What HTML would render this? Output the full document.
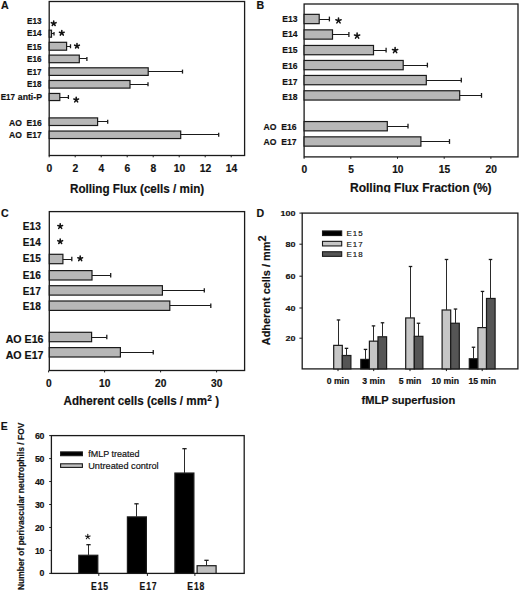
<!DOCTYPE html>
<html><head><meta charset="utf-8"><style>
html,body{margin:0;padding:0;background:#fff;width:520px;height:592px;overflow:hidden}
svg{display:block}
text{fill:#111;font-family:"Liberation Sans",sans-serif;stroke:#111;stroke-width:0.18px}
</style></head><body>
<svg width="520" height="592" viewBox="0 0 520 592">
<rect x="0" y="0" width="520" height="592" fill="#fff"/>
<text transform="translate(1.1,9.0) scale(1,1.03)" font-size="10.6" font-weight="bold" >A</text>
<rect x="49.2" y="1.5" width="195.39999999999998" height="154.0" fill="none" stroke="#1a1a1a" stroke-width="1.3"/>
<text transform="translate(27.1,23.5) scale(1,1.05)" font-size="8.3" font-weight="bold" textLength="14.4" lengthAdjust="spacingAndGlyphs" >E13</text>
<text transform="translate(27.1,36.2) scale(1,1.05)" font-size="8.3" font-weight="bold" textLength="14.4" lengthAdjust="spacingAndGlyphs" >E14</text>
<text transform="translate(27.1,49.6) scale(1,1.05)" font-size="8.3" font-weight="bold" textLength="14.4" lengthAdjust="spacingAndGlyphs" >E15</text>
<text transform="translate(27.1,62.3) scale(1,1.05)" font-size="8.3" font-weight="bold" textLength="14.4" lengthAdjust="spacingAndGlyphs" >E16</text>
<text transform="translate(27.1,75.0) scale(1,1.05)" font-size="8.3" font-weight="bold" textLength="14.4" lengthAdjust="spacingAndGlyphs" >E17</text>
<text transform="translate(27.1,87.1) scale(1,1.05)" font-size="8.3" font-weight="bold" textLength="14.4" lengthAdjust="spacingAndGlyphs" >E18</text>
<text transform="translate(0.7,99.80000000000001) scale(1,1.05)" font-size="8.3" font-weight="bold" textLength="14.4" lengthAdjust="spacingAndGlyphs" >E17</text>
<text transform="translate(17.8,99.80000000000001) scale(1,1.05)" font-size="8.3" font-weight="bold" textLength="24.2" lengthAdjust="spacingAndGlyphs" >anti-P</text>
<text transform="translate(9.0,125.5) scale(1,1.05)" font-size="8.3" font-weight="bold" textLength="32.8" lengthAdjust="spacingAndGlyphs" >AO&#160;&#160;E16</text>
<text transform="translate(9.0,138.0) scale(1,1.05)" font-size="8.3" font-weight="bold" textLength="32.8" lengthAdjust="spacingAndGlyphs" >AO&#160;&#160;E17</text>
<rect x="49.20" y="30.20" width="2.30" height="7.00" fill="#b7b7b7" stroke="#1a1a1a" stroke-width="1.2"/>
<line x1="51.50" y1="33.50" x2="54.00" y2="33.50" stroke="#1a1a1a" stroke-width="1.0"/>
<line x1="54.00" y1="32.00" x2="54.00" y2="35.40" stroke="#1a1a1a" stroke-width="1.3"/>
<rect x="49.20" y="42.30" width="17.40" height="7.90" fill="#b7b7b7" stroke="#1a1a1a" stroke-width="1.2"/>
<line x1="66.60" y1="46.50" x2="70.50" y2="46.50" stroke="#1a1a1a" stroke-width="1.0"/>
<line x1="70.50" y1="44.25" x2="70.50" y2="48.25" stroke="#1a1a1a" stroke-width="1.3"/>
<rect x="49.20" y="55.10" width="30.10" height="7.60" fill="#b7b7b7" stroke="#1a1a1a" stroke-width="1.2"/>
<line x1="79.30" y1="58.50" x2="86.90" y2="58.50" stroke="#1a1a1a" stroke-width="1.0"/>
<line x1="86.90" y1="56.90" x2="86.90" y2="60.90" stroke="#1a1a1a" stroke-width="1.3"/>
<rect x="49.20" y="67.80" width="99.00" height="7.60" fill="#b7b7b7" stroke="#1a1a1a" stroke-width="1.2"/>
<line x1="148.20" y1="71.50" x2="182.50" y2="71.50" stroke="#1a1a1a" stroke-width="1.0"/>
<line x1="182.50" y1="69.60" x2="182.50" y2="73.60" stroke="#1a1a1a" stroke-width="1.3"/>
<rect x="49.20" y="80.50" width="80.80" height="7.60" fill="#b7b7b7" stroke="#1a1a1a" stroke-width="1.2"/>
<line x1="130.00" y1="84.50" x2="148.00" y2="84.50" stroke="#1a1a1a" stroke-width="1.0"/>
<line x1="148.00" y1="82.30" x2="148.00" y2="86.30" stroke="#1a1a1a" stroke-width="1.3"/>
<rect x="49.20" y="93.45" width="10.60" height="7.10" fill="#b7b7b7" stroke="#1a1a1a" stroke-width="1.2"/>
<line x1="59.80" y1="97.50" x2="68.40" y2="97.50" stroke="#1a1a1a" stroke-width="1.0"/>
<line x1="68.40" y1="95.00" x2="68.40" y2="99.00" stroke="#1a1a1a" stroke-width="1.3"/>
<rect x="49.20" y="117.90" width="48.40" height="7.60" fill="#b7b7b7" stroke="#1a1a1a" stroke-width="1.2"/>
<line x1="97.60" y1="121.50" x2="107.70" y2="121.50" stroke="#1a1a1a" stroke-width="1.0"/>
<line x1="107.70" y1="119.70" x2="107.70" y2="123.70" stroke="#1a1a1a" stroke-width="1.3"/>
<rect x="49.20" y="131.05" width="131.50" height="7.50" fill="#b7b7b7" stroke="#1a1a1a" stroke-width="1.2"/>
<line x1="180.70" y1="134.50" x2="218.70" y2="134.50" stroke="#1a1a1a" stroke-width="1.0"/>
<line x1="218.70" y1="132.80" x2="218.70" y2="136.80" stroke="#1a1a1a" stroke-width="1.3"/>
<path d="M53.70 23.44L53.70 20.94M53.70 23.44L56.08 22.67M53.70 23.44L55.17 25.46M53.70 23.44L52.23 25.46M53.70 23.44L51.32 22.67" stroke="#111" stroke-width="1.55" stroke-linecap="round" fill="none"/>
<path d="M61.80 33.04L61.80 30.54M61.80 33.04L64.18 32.27M61.80 33.04L63.27 35.06M61.80 33.04L60.33 35.06M61.80 33.04L59.42 32.27" stroke="#111" stroke-width="1.55" stroke-linecap="round" fill="none"/>
<path d="M77.00 45.94L77.00 43.44M77.00 45.94L79.38 45.17M77.00 45.94L78.47 47.96M77.00 45.94L75.53 47.96M77.00 45.94L74.62 45.17" stroke="#111" stroke-width="1.55" stroke-linecap="round" fill="none"/>
<path d="M76.20 99.84L76.20 97.34M76.20 99.84L78.58 99.07M76.20 99.84L77.67 101.86M76.20 99.84L74.73 101.86M76.20 99.84L73.82 99.07" stroke="#111" stroke-width="1.55" stroke-linecap="round" fill="none"/>
<line x1="49.20" y1="155.50" x2="49.20" y2="157.30" stroke="#1a1a1a" stroke-width="1.0"/>
<text transform="translate(49.400000000000006,172.3)" font-size="10.3" font-weight="bold" text-anchor="middle" >0</text>
<line x1="75.20" y1="155.50" x2="75.20" y2="157.30" stroke="#1a1a1a" stroke-width="1.0"/>
<text transform="translate(75.4,172.3)" font-size="10.3" font-weight="bold" text-anchor="middle" >2</text>
<line x1="101.20" y1="155.50" x2="101.20" y2="157.30" stroke="#1a1a1a" stroke-width="1.0"/>
<text transform="translate(101.4,172.3)" font-size="10.3" font-weight="bold" text-anchor="middle" >4</text>
<line x1="127.20" y1="155.50" x2="127.20" y2="157.30" stroke="#1a1a1a" stroke-width="1.0"/>
<text transform="translate(127.4,172.3)" font-size="10.3" font-weight="bold" text-anchor="middle" >6</text>
<line x1="153.20" y1="155.50" x2="153.20" y2="157.30" stroke="#1a1a1a" stroke-width="1.0"/>
<text transform="translate(153.39999999999998,172.3)" font-size="10.3" font-weight="bold" text-anchor="middle" >8</text>
<line x1="179.20" y1="155.50" x2="179.20" y2="157.30" stroke="#1a1a1a" stroke-width="1.0"/>
<text transform="translate(179.39999999999998,172.3)" font-size="10.3" font-weight="bold" text-anchor="middle" >10</text>
<line x1="205.20" y1="155.50" x2="205.20" y2="157.30" stroke="#1a1a1a" stroke-width="1.0"/>
<text transform="translate(205.39999999999998,172.3)" font-size="10.3" font-weight="bold" text-anchor="middle" >12</text>
<line x1="231.20" y1="155.50" x2="231.20" y2="157.30" stroke="#1a1a1a" stroke-width="1.0"/>
<text transform="translate(231.39999999999998,172.3)" font-size="10.3" font-weight="bold" text-anchor="middle" >14</text>
<text transform="translate(70.0,193.1) scale(1,1.03)" font-size="11.7" font-weight="bold" textLength="134.2" lengthAdjust="spacingAndGlyphs" >Rolling Flux (cells / min)</text>
<text transform="translate(256.6,9.2)" font-size="10.6" font-weight="bold" >B</text>
<rect x="304.1" y="4.0" width="213.89999999999998" height="152.9" fill="none" stroke="#1a1a1a" stroke-width="1.3"/>
<text transform="translate(282.2,22.0) scale(1,1.05)" font-size="8.3" font-weight="bold" textLength="15.2" lengthAdjust="spacingAndGlyphs" >E13</text>
<text transform="translate(282.2,37.4) scale(1,1.05)" font-size="8.3" font-weight="bold" textLength="15.2" lengthAdjust="spacingAndGlyphs" >E14</text>
<text transform="translate(282.2,53.2) scale(1,1.05)" font-size="8.3" font-weight="bold" textLength="15.2" lengthAdjust="spacingAndGlyphs" >E15</text>
<text transform="translate(282.2,69.0) scale(1,1.05)" font-size="8.3" font-weight="bold" textLength="15.2" lengthAdjust="spacingAndGlyphs" >E16</text>
<text transform="translate(282.2,84.6) scale(1,1.05)" font-size="8.3" font-weight="bold" textLength="15.2" lengthAdjust="spacingAndGlyphs" >E17</text>
<text transform="translate(282.2,99.5) scale(1,1.05)" font-size="8.3" font-weight="bold" textLength="15.2" lengthAdjust="spacingAndGlyphs" >E18</text>
<text transform="translate(263.5,130.0) scale(1,1.05)" font-size="8.3" font-weight="bold" textLength="33.0" lengthAdjust="spacingAndGlyphs" >AO&#160;&#160;E16</text>
<text transform="translate(263.5,145.3) scale(1,1.05)" font-size="8.3" font-weight="bold" textLength="33.0" lengthAdjust="spacingAndGlyphs" >AO&#160;&#160;E17</text>
<rect x="304.10" y="14.35" width="15.10" height="9.30" fill="#b7b7b7" stroke="#1a1a1a" stroke-width="1.2"/>
<line x1="319.20" y1="19.50" x2="329.40" y2="19.50" stroke="#1a1a1a" stroke-width="1.0"/>
<line x1="329.40" y1="16.60" x2="329.40" y2="21.40" stroke="#1a1a1a" stroke-width="1.3"/>
<rect x="304.10" y="29.85" width="28.40" height="9.30" fill="#b7b7b7" stroke="#1a1a1a" stroke-width="1.2"/>
<line x1="332.50" y1="34.50" x2="348.90" y2="34.50" stroke="#1a1a1a" stroke-width="1.0"/>
<line x1="348.90" y1="32.10" x2="348.90" y2="36.90" stroke="#1a1a1a" stroke-width="1.3"/>
<rect x="304.10" y="45.45" width="69.40" height="9.30" fill="#b7b7b7" stroke="#1a1a1a" stroke-width="1.2"/>
<line x1="373.50" y1="50.50" x2="386.10" y2="50.50" stroke="#1a1a1a" stroke-width="1.0"/>
<line x1="386.10" y1="47.70" x2="386.10" y2="52.50" stroke="#1a1a1a" stroke-width="1.3"/>
<rect x="304.10" y="60.45" width="99.10" height="9.30" fill="#b7b7b7" stroke="#1a1a1a" stroke-width="1.2"/>
<line x1="403.20" y1="65.50" x2="427.40" y2="65.50" stroke="#1a1a1a" stroke-width="1.0"/>
<line x1="427.40" y1="62.70" x2="427.40" y2="67.50" stroke="#1a1a1a" stroke-width="1.3"/>
<rect x="304.10" y="75.45" width="122.20" height="9.30" fill="#b7b7b7" stroke="#1a1a1a" stroke-width="1.2"/>
<line x1="426.30" y1="80.50" x2="461.30" y2="80.50" stroke="#1a1a1a" stroke-width="1.0"/>
<line x1="461.30" y1="77.70" x2="461.30" y2="82.50" stroke="#1a1a1a" stroke-width="1.3"/>
<rect x="304.10" y="90.75" width="155.60" height="9.30" fill="#b7b7b7" stroke="#1a1a1a" stroke-width="1.2"/>
<line x1="459.70" y1="95.50" x2="481.50" y2="95.50" stroke="#1a1a1a" stroke-width="1.0"/>
<line x1="481.50" y1="93.00" x2="481.50" y2="97.80" stroke="#1a1a1a" stroke-width="1.3"/>
<rect x="304.10" y="121.55" width="83.20" height="9.30" fill="#b7b7b7" stroke="#1a1a1a" stroke-width="1.2"/>
<line x1="387.30" y1="126.50" x2="408.00" y2="126.50" stroke="#1a1a1a" stroke-width="1.0"/>
<line x1="408.00" y1="123.80" x2="408.00" y2="128.60" stroke="#1a1a1a" stroke-width="1.3"/>
<rect x="304.10" y="136.85" width="116.80" height="9.30" fill="#b7b7b7" stroke="#1a1a1a" stroke-width="1.2"/>
<line x1="420.90" y1="141.50" x2="449.50" y2="141.50" stroke="#1a1a1a" stroke-width="1.0"/>
<line x1="449.50" y1="139.10" x2="449.50" y2="143.90" stroke="#1a1a1a" stroke-width="1.3"/>
<path d="M338.50 20.66L338.50 17.90M338.50 20.66L341.13 19.81M338.50 20.66L340.12 22.90M338.50 20.66L336.88 22.90M338.50 20.66L335.87 19.81" stroke="#111" stroke-width="1.55" stroke-linecap="round" fill="none"/>
<path d="M357.10 35.86L357.10 33.10M357.10 35.86L359.73 35.01M357.10 35.86L358.72 38.10M357.10 35.86L355.48 38.10M357.10 35.86L354.47 35.01" stroke="#111" stroke-width="1.55" stroke-linecap="round" fill="none"/>
<path d="M395.10 50.36L395.10 47.60M395.10 50.36L397.73 49.51M395.10 50.36L396.72 52.60M395.10 50.36L393.48 52.60M395.10 50.36L392.47 49.51" stroke="#111" stroke-width="1.55" stroke-linecap="round" fill="none"/>
<line x1="304.10" y1="156.90" x2="304.10" y2="158.80" stroke="#1a1a1a" stroke-width="1.0"/>
<text transform="translate(304.40000000000003,172.7)" font-size="10.2" font-weight="bold" text-anchor="middle" >0</text>
<line x1="350.80" y1="156.90" x2="350.80" y2="158.80" stroke="#1a1a1a" stroke-width="1.0"/>
<text transform="translate(351.1,172.7)" font-size="10.2" font-weight="bold" text-anchor="middle" >5</text>
<line x1="397.50" y1="156.90" x2="397.50" y2="158.80" stroke="#1a1a1a" stroke-width="1.0"/>
<text transform="translate(397.8,172.7)" font-size="10.2" font-weight="bold" text-anchor="middle" >10</text>
<line x1="444.20" y1="156.90" x2="444.20" y2="158.80" stroke="#1a1a1a" stroke-width="1.0"/>
<text transform="translate(444.50000000000006,172.7)" font-size="10.2" font-weight="bold" text-anchor="middle" >15</text>
<line x1="490.90" y1="156.90" x2="490.90" y2="158.80" stroke="#1a1a1a" stroke-width="1.0"/>
<text transform="translate(491.20000000000005,172.7)" font-size="10.2" font-weight="bold" text-anchor="middle" >20</text>
<clipPath id="cb"><rect x="300" y="170" width="97" height="22.4"/><rect x="397" y="170" width="120" height="30"/></clipPath>
<g clip-path="url(#cb)">
<text transform="translate(350.0,192.2)" font-size="12.0" font-weight="bold" textLength="141.6" lengthAdjust="spacingAndGlyphs" >Rolling Flux Fraction (%)</text>
</g>
<text transform="translate(1.0,217.4)" font-size="10.6" font-weight="bold" >C</text>
<rect x="49.3" y="211.6" width="195.3" height="158.9" fill="none" stroke="#1a1a1a" stroke-width="1.3"/>
<text transform="translate(22.8,230.1) scale(1,1.02)" font-size="10.2" font-weight="bold" textLength="18.0" lengthAdjust="spacingAndGlyphs" >E13</text>
<text transform="translate(22.8,246.1) scale(1,1.02)" font-size="10.2" font-weight="bold" textLength="18.0" lengthAdjust="spacingAndGlyphs" >E14</text>
<text transform="translate(22.8,262.09999999999997) scale(1,1.02)" font-size="10.2" font-weight="bold" textLength="18.0" lengthAdjust="spacingAndGlyphs" >E15</text>
<text transform="translate(22.8,279.0) scale(1,1.02)" font-size="10.2" font-weight="bold" textLength="18.0" lengthAdjust="spacingAndGlyphs" >E16</text>
<text transform="translate(22.8,294.5) scale(1,1.02)" font-size="10.2" font-weight="bold" textLength="18.0" lengthAdjust="spacingAndGlyphs" >E17</text>
<text transform="translate(22.8,310.3) scale(1,1.02)" font-size="10.2" font-weight="bold" textLength="18.0" lengthAdjust="spacingAndGlyphs" >E18</text>
<text transform="translate(5.7,343.4) scale(1,1.02)" font-size="10.2" font-weight="bold" textLength="37.8" lengthAdjust="spacingAndGlyphs" >AO E16</text>
<text transform="translate(5.7,358.9) scale(1,1.02)" font-size="10.2" font-weight="bold" textLength="37.8" lengthAdjust="spacingAndGlyphs" >AO E17</text>
<rect x="49.30" y="254.30" width="13.60" height="9.40" fill="#b7b7b7" stroke="#1a1a1a" stroke-width="1.2"/>
<line x1="62.90" y1="259.50" x2="71.80" y2="259.50" stroke="#1a1a1a" stroke-width="1.0"/>
<line x1="71.80" y1="256.80" x2="71.80" y2="261.20" stroke="#1a1a1a" stroke-width="1.3"/>
<rect x="49.30" y="270.60" width="42.70" height="9.40" fill="#b7b7b7" stroke="#1a1a1a" stroke-width="1.2"/>
<line x1="92.00" y1="275.50" x2="110.70" y2="275.50" stroke="#1a1a1a" stroke-width="1.0"/>
<line x1="110.70" y1="273.10" x2="110.70" y2="277.50" stroke="#1a1a1a" stroke-width="1.3"/>
<rect x="49.30" y="285.70" width="113.10" height="9.40" fill="#b7b7b7" stroke="#1a1a1a" stroke-width="1.2"/>
<line x1="162.40" y1="290.50" x2="204.30" y2="290.50" stroke="#1a1a1a" stroke-width="1.0"/>
<line x1="204.30" y1="288.20" x2="204.30" y2="292.60" stroke="#1a1a1a" stroke-width="1.3"/>
<rect x="49.30" y="301.00" width="120.50" height="9.40" fill="#b7b7b7" stroke="#1a1a1a" stroke-width="1.2"/>
<line x1="169.80" y1="305.50" x2="210.80" y2="305.50" stroke="#1a1a1a" stroke-width="1.0"/>
<line x1="210.80" y1="303.50" x2="210.80" y2="307.90" stroke="#1a1a1a" stroke-width="1.3"/>
<rect x="49.30" y="332.30" width="42.30" height="9.40" fill="#b7b7b7" stroke="#1a1a1a" stroke-width="1.2"/>
<line x1="91.60" y1="337.50" x2="106.80" y2="337.50" stroke="#1a1a1a" stroke-width="1.0"/>
<line x1="106.80" y1="334.80" x2="106.80" y2="339.20" stroke="#1a1a1a" stroke-width="1.3"/>
<rect x="49.30" y="347.60" width="71.10" height="9.40" fill="#b7b7b7" stroke="#1a1a1a" stroke-width="1.2"/>
<line x1="120.40" y1="352.50" x2="153.25" y2="352.50" stroke="#1a1a1a" stroke-width="1.0"/>
<line x1="153.25" y1="350.10" x2="153.25" y2="354.50" stroke="#1a1a1a" stroke-width="1.3"/>
<path d="M60.20 226.34L60.20 223.84M60.20 226.34L62.58 225.57M60.20 226.34L61.67 228.36M60.20 226.34L58.73 228.36M60.20 226.34L57.82 225.57" stroke="#111" stroke-width="1.55" stroke-linecap="round" fill="none"/>
<path d="M60.20 241.44L60.20 238.94M60.20 241.44L62.58 240.67M60.20 241.44L61.67 243.46M60.20 241.44L58.73 243.46M60.20 241.44L57.82 240.67" stroke="#111" stroke-width="1.55" stroke-linecap="round" fill="none"/>
<path d="M80.20 258.54L80.20 256.04M80.20 258.54L82.58 257.77M80.20 258.54L81.67 260.56M80.20 258.54L78.73 260.56M80.20 258.54L77.82 257.77" stroke="#111" stroke-width="1.55" stroke-linecap="round" fill="none"/>
<line x1="48.60" y1="370.50" x2="48.60" y2="372.40" stroke="#1a1a1a" stroke-width="1.0"/>
<text transform="translate(48.800000000000004,387.3) scale(1,1.02)" font-size="10.2" font-weight="bold" text-anchor="middle" >0</text>
<line x1="104.60" y1="370.50" x2="104.60" y2="372.40" stroke="#1a1a1a" stroke-width="1.0"/>
<text transform="translate(104.8,387.3) scale(1,1.02)" font-size="10.2" font-weight="bold" text-anchor="middle" >10</text>
<line x1="160.60" y1="370.50" x2="160.60" y2="372.40" stroke="#1a1a1a" stroke-width="1.0"/>
<text transform="translate(160.79999999999998,387.3) scale(1,1.02)" font-size="10.2" font-weight="bold" text-anchor="middle" >20</text>
<line x1="216.60" y1="370.50" x2="216.60" y2="372.40" stroke="#1a1a1a" stroke-width="1.0"/>
<text transform="translate(216.79999999999998,387.3) scale(1,1.02)" font-size="10.2" font-weight="bold" text-anchor="middle" >30</text>
<text transform="translate(63.6,405.1) scale(1,1.03)" font-size="11.6" font-weight="bold" textLength="143.4" lengthAdjust="spacingAndGlyphs" >Adherent cells (cells / mm</text>
<text transform="translate(207.3,400.8)" font-size="8.2" font-weight="bold" >2</text>
<text transform="translate(215.2,405.1) scale(1,1.03)" font-size="11.6" font-weight="bold" >)</text>
<text transform="translate(256.6,217.2)" font-size="10.6" font-weight="bold" >D</text>
<rect x="302.2" y="213.1" width="215.7" height="155.79999999999998" fill="none" stroke="#1a1a1a" stroke-width="1.3"/>
<line x1="299.40" y1="213.10" x2="302.20" y2="213.10" stroke="#1a1a1a" stroke-width="1.0"/>
<text transform="translate(295.6,216.1) scale(1,0.85)" font-size="9.0" font-weight="bold" text-anchor="end" >100</text>
<line x1="299.40" y1="244.20" x2="302.20" y2="244.20" stroke="#1a1a1a" stroke-width="1.0"/>
<text transform="translate(295.6,247.2) scale(1,0.85)" font-size="9.0" font-weight="bold" text-anchor="end" >80</text>
<line x1="299.40" y1="276.20" x2="302.20" y2="276.20" stroke="#1a1a1a" stroke-width="1.0"/>
<text transform="translate(295.6,279.2) scale(1,0.85)" font-size="9.0" font-weight="bold" text-anchor="end" >60</text>
<line x1="299.40" y1="308.00" x2="302.20" y2="308.00" stroke="#1a1a1a" stroke-width="1.0"/>
<text transform="translate(295.6,311.0) scale(1,0.85)" font-size="9.0" font-weight="bold" text-anchor="end" >40</text>
<line x1="299.40" y1="338.20" x2="302.20" y2="338.20" stroke="#1a1a1a" stroke-width="1.0"/>
<text transform="translate(295.6,341.2) scale(1,0.85)" font-size="9.0" font-weight="bold" text-anchor="end" >20</text>
<rect x="333.70" y="345.37" width="8.60" height="23.53" fill="#c6c6c6" stroke="#1a1a1a" stroke-width="1.2"/>
<line x1="338.50" y1="345.37" x2="338.50" y2="319.96" stroke="#2a2a2a" stroke-width="1.0"/>
<line x1="336.75" y1="319.96" x2="340.25" y2="319.96" stroke="#1a1a1a" stroke-width="1.3"/>
<rect x="342.30" y="355.50" width="8.60" height="13.40" fill="#555555" stroke="#1a1a1a" stroke-width="1.2"/>
<line x1="346.50" y1="355.50" x2="346.50" y2="348.33" stroke="#2a2a2a" stroke-width="1.0"/>
<line x1="344.75" y1="348.33" x2="348.25" y2="348.33" stroke="#1a1a1a" stroke-width="1.3"/>
<line x1="338.00" y1="368.90" x2="338.00" y2="371.10" stroke="#1a1a1a" stroke-width="1.0"/>
<text transform="translate(338.0,383.6) scale(1,0.95)" font-size="8.7" font-weight="bold" text-anchor="middle" >0 min</text>
<rect x="360.80" y="359.39" width="8.60" height="9.51" fill="#000000" stroke="#1a1a1a" stroke-width="1.2"/>
<line x1="365.50" y1="359.39" x2="365.50" y2="349.42" stroke="#2a2a2a" stroke-width="1.0"/>
<line x1="363.75" y1="349.42" x2="367.25" y2="349.42" stroke="#1a1a1a" stroke-width="1.3"/>
<rect x="369.40" y="341.16" width="8.60" height="27.74" fill="#c6c6c6" stroke="#1a1a1a" stroke-width="1.2"/>
<line x1="373.50" y1="341.16" x2="373.50" y2="325.89" stroke="#2a2a2a" stroke-width="1.0"/>
<line x1="371.75" y1="325.89" x2="375.25" y2="325.89" stroke="#1a1a1a" stroke-width="1.3"/>
<rect x="378.00" y="336.79" width="8.60" height="32.11" fill="#555555" stroke="#1a1a1a" stroke-width="1.2"/>
<line x1="382.50" y1="336.79" x2="382.50" y2="322.77" stroke="#2a2a2a" stroke-width="1.0"/>
<line x1="380.75" y1="322.77" x2="384.25" y2="322.77" stroke="#1a1a1a" stroke-width="1.3"/>
<line x1="373.70" y1="368.90" x2="373.70" y2="371.10" stroke="#1a1a1a" stroke-width="1.0"/>
<text transform="translate(373.7,383.6) scale(1,0.95)" font-size="8.7" font-weight="bold" text-anchor="middle" >3 min</text>
<rect x="405.70" y="317.94" width="8.60" height="50.96" fill="#c6c6c6" stroke="#1a1a1a" stroke-width="1.2"/>
<line x1="410.50" y1="317.94" x2="410.50" y2="266.51" stroke="#2a2a2a" stroke-width="1.0"/>
<line x1="408.75" y1="266.51" x2="412.25" y2="266.51" stroke="#1a1a1a" stroke-width="1.3"/>
<rect x="414.30" y="336.33" width="8.60" height="32.57" fill="#555555" stroke="#1a1a1a" stroke-width="1.2"/>
<line x1="418.50" y1="336.33" x2="418.50" y2="323.24" stroke="#2a2a2a" stroke-width="1.0"/>
<line x1="416.75" y1="323.24" x2="420.25" y2="323.24" stroke="#1a1a1a" stroke-width="1.3"/>
<line x1="410.00" y1="368.90" x2="410.00" y2="371.10" stroke="#1a1a1a" stroke-width="1.0"/>
<text transform="translate(410.0,383.6) scale(1,0.95)" font-size="8.7" font-weight="bold" text-anchor="middle" >5 min</text>
<rect x="442.10" y="309.99" width="8.60" height="58.91" fill="#c6c6c6" stroke="#1a1a1a" stroke-width="1.2"/>
<line x1="446.50" y1="309.99" x2="446.50" y2="259.49" stroke="#2a2a2a" stroke-width="1.0"/>
<line x1="444.75" y1="259.49" x2="448.25" y2="259.49" stroke="#1a1a1a" stroke-width="1.3"/>
<rect x="450.70" y="323.24" width="8.60" height="45.66" fill="#555555" stroke="#1a1a1a" stroke-width="1.2"/>
<line x1="455.50" y1="323.24" x2="455.50" y2="309.05" stroke="#2a2a2a" stroke-width="1.0"/>
<line x1="453.75" y1="309.05" x2="457.25" y2="309.05" stroke="#1a1a1a" stroke-width="1.3"/>
<line x1="446.40" y1="368.90" x2="446.40" y2="371.10" stroke="#1a1a1a" stroke-width="1.0"/>
<text transform="translate(445.2,383.6) scale(1,0.95)" font-size="8.7" font-weight="bold" text-anchor="middle" >10 min</text>
<rect x="469.30" y="358.77" width="8.60" height="10.13" fill="#000000" stroke="#1a1a1a" stroke-width="1.2"/>
<line x1="473.50" y1="358.77" x2="473.50" y2="347.24" stroke="#2a2a2a" stroke-width="1.0"/>
<line x1="471.75" y1="347.24" x2="475.25" y2="347.24" stroke="#1a1a1a" stroke-width="1.3"/>
<rect x="477.90" y="327.60" width="8.60" height="41.30" fill="#c6c6c6" stroke="#1a1a1a" stroke-width="1.2"/>
<line x1="482.50" y1="327.60" x2="482.50" y2="291.44" stroke="#2a2a2a" stroke-width="1.0"/>
<line x1="480.75" y1="291.44" x2="484.25" y2="291.44" stroke="#1a1a1a" stroke-width="1.3"/>
<rect x="486.50" y="298.46" width="8.60" height="70.44" fill="#555555" stroke="#1a1a1a" stroke-width="1.2"/>
<line x1="490.50" y1="298.46" x2="490.50" y2="259.49" stroke="#2a2a2a" stroke-width="1.0"/>
<line x1="488.75" y1="259.49" x2="492.25" y2="259.49" stroke="#1a1a1a" stroke-width="1.3"/>
<line x1="482.20" y1="368.90" x2="482.20" y2="371.10" stroke="#1a1a1a" stroke-width="1.0"/>
<text transform="translate(482.2,383.6) scale(1,0.95)" font-size="8.7" font-weight="bold" text-anchor="middle" >15 min</text>
<rect x="322.50" y="230.95" width="19.20" height="4.60" fill="#000000" stroke="#1a1a1a" stroke-width="1.1"/>
<text transform="translate(346.5,236.2) scale(1,1.02)" font-size="7.9" font-weight="normal" letter-spacing="1.0" stroke="#111" stroke-width="0.2">E15</text>
<rect x="322.50" y="241.35" width="19.20" height="4.60" fill="#c6c6c6" stroke="#1a1a1a" stroke-width="1.1"/>
<text transform="translate(346.5,246.6) scale(1,1.02)" font-size="7.9" font-weight="normal" letter-spacing="1.0" stroke="#111" stroke-width="0.2">E17</text>
<rect x="322.50" y="251.75" width="19.20" height="4.60" fill="#555555" stroke="#1a1a1a" stroke-width="1.1"/>
<text transform="translate(346.5,257.0) scale(1,1.02)" font-size="7.9" font-weight="normal" letter-spacing="1.0" stroke="#111" stroke-width="0.2">E18</text>
<text transform="translate(361.6,404.4) scale(1,1.05)" font-size="11.0" font-weight="bold" textLength="93.6" lengthAdjust="spacingAndGlyphs" >fMLP superfusion</text>
<g transform="translate(269.6,345.2) rotate(-90)">
<text transform="translate(0,0)" font-size="10.8" font-weight="bold" textLength="103.6" lengthAdjust="spacingAndGlyphs" >Adherent cells / mm</text>
<text transform="translate(103.8,-3.4)" font-size="10.8" font-weight="bold" >2</text>
</g>
<text transform="translate(0.7,429.8) scale(1,1.02)" font-size="10.4" font-weight="bold" >E</text>
<rect x="51.4" y="435.6" width="192.79999999999998" height="137.79999999999995" fill="none" stroke="#1a1a1a" stroke-width="1.3"/>
<line x1="49.20" y1="573.40" x2="51.40" y2="573.40" stroke="#1a1a1a" stroke-width="1.0"/>
<text transform="translate(44.0,575.7)" font-size="8.8" font-weight="bold" text-anchor="end" letter-spacing="-0.4" >0</text>
<line x1="49.20" y1="550.43" x2="51.40" y2="550.43" stroke="#1a1a1a" stroke-width="1.0"/>
<text transform="translate(44.0,553.5333333333333)" font-size="8.8" font-weight="bold" text-anchor="end" letter-spacing="-0.4" >10</text>
<line x1="49.20" y1="527.47" x2="51.40" y2="527.47" stroke="#1a1a1a" stroke-width="1.0"/>
<text transform="translate(44.0,530.5666666666667)" font-size="8.8" font-weight="bold" text-anchor="end" letter-spacing="-0.4" >20</text>
<line x1="49.20" y1="504.50" x2="51.40" y2="504.50" stroke="#1a1a1a" stroke-width="1.0"/>
<text transform="translate(44.0,507.6)" font-size="8.8" font-weight="bold" text-anchor="end" letter-spacing="-0.4" >30</text>
<line x1="49.20" y1="481.53" x2="51.40" y2="481.53" stroke="#1a1a1a" stroke-width="1.0"/>
<text transform="translate(44.0,484.6333333333333)" font-size="8.8" font-weight="bold" text-anchor="end" letter-spacing="-0.4" >40</text>
<line x1="49.20" y1="458.57" x2="51.40" y2="458.57" stroke="#1a1a1a" stroke-width="1.0"/>
<text transform="translate(44.0,461.6666666666667)" font-size="8.8" font-weight="bold" text-anchor="end" letter-spacing="-0.4" >50</text>
<line x1="49.20" y1="435.60" x2="51.40" y2="435.60" stroke="#1a1a1a" stroke-width="1.0"/>
<text transform="translate(44.0,438.70000000000005)" font-size="8.8" font-weight="bold" text-anchor="end" letter-spacing="-0.4" >60</text>
<rect x="78.80" y="555.26" width="19.00" height="18.14" fill="#000000" stroke="#1a1a1a" stroke-width="1.2"/>
<line x1="88.50" y1="555.26" x2="88.50" y2="544.69" stroke="#2a2a2a" stroke-width="1.0"/>
<line x1="86.35" y1="544.69" x2="90.65" y2="544.69" stroke="#1a1a1a" stroke-width="1.3"/>
<line x1="98.80" y1="573.40" x2="98.80" y2="575.90" stroke="#1a1a1a" stroke-width="1.0"/>
<rect x="127.40" y="516.90" width="19.00" height="56.50" fill="#000000" stroke="#1a1a1a" stroke-width="1.2"/>
<line x1="136.50" y1="516.90" x2="136.50" y2="503.81" stroke="#2a2a2a" stroke-width="1.0"/>
<line x1="134.35" y1="503.81" x2="138.65" y2="503.81" stroke="#1a1a1a" stroke-width="1.3"/>
<line x1="147.40" y1="573.40" x2="147.40" y2="575.90" stroke="#1a1a1a" stroke-width="1.0"/>
<rect x="174.90" y="473.04" width="19.00" height="100.36" fill="#000000" stroke="#1a1a1a" stroke-width="1.2"/>
<line x1="184.50" y1="473.04" x2="184.50" y2="448.69" stroke="#2a2a2a" stroke-width="1.0"/>
<line x1="182.35" y1="448.69" x2="186.65" y2="448.69" stroke="#1a1a1a" stroke-width="1.3"/>
<rect x="197.10" y="565.71" width="19.00" height="7.69" fill="#c0c0c0" stroke="#1a1a1a" stroke-width="1.2"/>
<line x1="206.50" y1="565.71" x2="206.50" y2="560.31" stroke="#2a2a2a" stroke-width="1.0"/>
<line x1="204.35" y1="560.31" x2="208.65" y2="560.31" stroke="#1a1a1a" stroke-width="1.3"/>
<line x1="194.90" y1="573.40" x2="194.90" y2="575.90" stroke="#1a1a1a" stroke-width="1.0"/>
<path d="M87.80 536.74L87.80 534.26M87.80 536.74L90.15 535.97M87.80 536.74L89.25 538.74M87.80 536.74L86.35 538.74M87.80 536.74L85.45 535.97" stroke="#111" stroke-width="1.1" stroke-linecap="round" fill="none"/>
<text transform="translate(100.0,589.8) scale(1,1.17)" font-size="8.6" font-weight="bold" text-anchor="middle" letter-spacing="0.9" >E15</text>
<text transform="translate(148.5,589.8) scale(1,1.17)" font-size="8.6" font-weight="bold" text-anchor="middle" letter-spacing="0.9" >E17</text>
<text transform="translate(196.3,589.8) scale(1,1.17)" font-size="8.6" font-weight="bold" text-anchor="middle" letter-spacing="0.9" >E18</text>
<rect x="60.60" y="451.90" width="21.80" height="3.80" fill="#000000" stroke="#1a1a1a" stroke-width="1.1"/>
<rect x="60.60" y="463.80" width="21.80" height="3.60" fill="#c0c0c0" stroke="#1a1a1a" stroke-width="1.1"/>
<text transform="translate(88.2,456.9) scale(1,1.08)" font-size="9.2" font-weight="normal" textLength="51.2" lengthAdjust="spacingAndGlyphs" stroke="#111" stroke-width="0.25">fMLP treated</text>
<text transform="translate(88.2,468.6) scale(1,1.08)" font-size="9.2" font-weight="normal" textLength="70.4" lengthAdjust="spacingAndGlyphs" stroke="#111" stroke-width="0.25">Untreated control</text>
<g transform="translate(24.2,590) rotate(-90)">
<text transform="translate(0,0)" font-size="8.4" font-weight="bold" textLength="167.4" lengthAdjust="spacingAndGlyphs" >Number of perivascular neutrophils / FOV</text>
</g>
</svg>
</body></html>
